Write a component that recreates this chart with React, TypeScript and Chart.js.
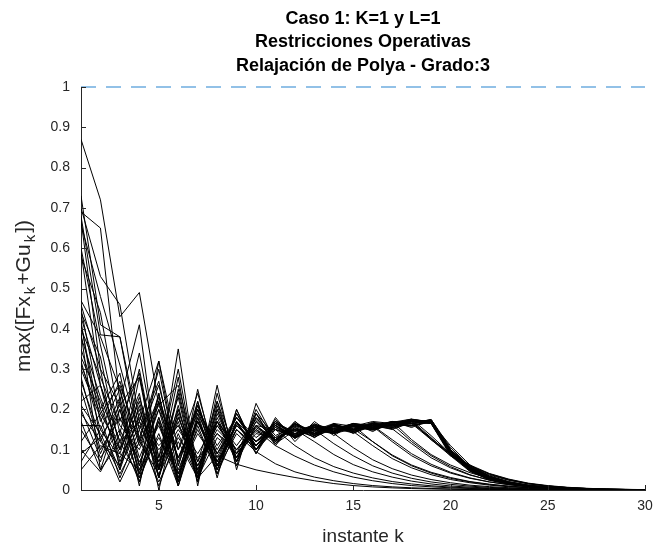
import React, { useEffect, useRef } from 'react';
import { Chart, registerables } from 'chart.js';

Chart.register(...registerables);

const FONT = '"Liberation Sans", Arial, Helvetica, sans-serif';

const kSteps = [1, 2, 3, 4, 5, 6, 7, 8, 9, 10, 11, 12, 13, 14, 15, 16, 17, 18, 19, 20, 21, 22, 23, 24, 25, 26, 27, 28, 29, 30];
const xTicks = [5, 10, 15, 20, 25, 30];
const yTicks = [0, 0.1, 0.2, 0.3, 0.4, 0.5, 0.6, 0.7, 0.8, 0.9, 1];
const titleLines = ['Caso 1: K=1 y L=1', 'Restricciones Operativas', 'Relajación de Polya - Grado:3'];
const xLabel = 'instante k';
const yLabelParts = [
  { t: 'max([Fx', sub: false },
  { t: 'k', sub: true },
  { t: '+Gu', sub: false },
  { t: 'k', sub: true },
  { t: '])', sub: false },
];
const limitX = [1, 30];
const limitY = [1, 1];

const traj01 = [0.87, 0.72, 0.43, 0.49, 0.21, 0.26, 0.07, 0.22, 0.09, 0.19, 0.135, 0.16, 0.148, 0.165, 0.158, 0.17, 0.165, 0.176, 0.168, 0.092, 0.05, 0.029, 0.017, 0.01, 0.006, 0.0035, 0.002, 0.0012, 0.0007, 0.0004];
const traj02 = [0.73, 0.41, 0.38, 0.12, 0.30, 0.06, 0.21, 0.09, 0.18, 0.11, 0.165, 0.14, 0.16, 0.148, 0.165, 0.155, 0.17, 0.165, 0.172, 0.095, 0.052, 0.03, 0.018, 0.011, 0.0065, 0.004, 0.0024, 0.0014, 0.0008, 0.0005];
const traj03 = [0.70, 0.53, 0.46, 0.17, 0.32, 0.10, 0.24, 0.07, 0.19, 0.11, 0.17, 0.135, 0.16, 0.145, 0.162, 0.155, 0.168, 0.172, 0.13, 0.085, 0.053, 0.032, 0.019, 0.011, 0.0065, 0.0038, 0.0022, 0.0013, 0.0008, 0.0005];
const traj04 = [0.69, 0.65, 0.22, 0.41, 0.05, 0.35, 0.03, 0.26, 0.05, 0.215, 0.12, 0.17, 0.135, 0.165, 0.145, 0.165, 0.155, 0.17, 0.165, 0.1, 0.058, 0.034, 0.02, 0.012, 0.007, 0.004, 0.0024, 0.0014, 0.0008, 0.0005];
const traj05 = [0.68, 0.385, 0.38, 0.15, 0.27, 0.04, 0.2, 0.06, 0.17, 0.1, 0.16, 0.13, 0.155, 0.142, 0.158, 0.15, 0.163, 0.12, 0.085, 0.058, 0.038, 0.024, 0.015, 0.009, 0.0055, 0.0033, 0.002, 0.0012, 0.0007, 0.0004];
const traj06 = [0.67, 0.30, 0.21, 0.28, 0.08, 0.23, 0.02, 0.19, 0.08, 0.17, 0.125, 0.158, 0.14, 0.16, 0.15, 0.165, 0.16, 0.174, 0.17, 0.1, 0.055, 0.03, 0.017, 0.009, 0.005, 0.0028, 0.0015, 0.0008, 0.0004, 0.0002];
const traj07 = [0.59, 0.26, 0.12, 0.24, 0.0, 0.2, 0.05, 0.16, 0.09, 0.155, 0.125, 0.15, 0.135, 0.152, 0.145, 0.11, 0.078, 0.055, 0.038, 0.026, 0.018, 0.012, 0.008, 0.0055, 0.0037, 0.0025, 0.0016, 0.001, 0.0007, 0.0004];
const traj08 = [0.46, 0.30, 0.05, 0.28, 0.03, 0.25, 0.04, 0.20, 0.08, 0.18, 0.13, 0.165, 0.145, 0.163, 0.152, 0.168, 0.162, 0.175, 0.17, 0.09, 0.05, 0.028, 0.016, 0.009, 0.005, 0.003, 0.0017, 0.001, 0.0006, 0.0003];
const traj09 = [0.45, 0.20, 0.29, 0.06, 0.24, 0.02, 0.25, 0.05, 0.2, 0.1, 0.175, 0.13, 0.165, 0.14, 0.16, 0.152, 0.168, 0.163, 0.174, 0.1, 0.055, 0.031, 0.018, 0.01, 0.006, 0.0035, 0.002, 0.0012, 0.0007, 0.0004];
const traj10 = [0.44, 0.33, 0.10, 0.30, 0.05, 0.28, 0.01, 0.24, 0.07, 0.2, 0.12, 0.165, 0.135, 0.16, 0.145, 0.158, 0.152, 0.115, 0.08, 0.055, 0.037, 0.025, 0.016, 0.01, 0.0065, 0.004, 0.0025, 0.0015, 0.0009, 0.0005];
const traj11 = [0.42, 0.12, 0.23, 0.04, 0.32, 0.06, 0.22, 0.06, 0.19, 0.1, 0.17, 0.13, 0.16, 0.145, 0.158, 0.152, 0.163, 0.16, 0.172, 0.098, 0.054, 0.03, 0.017, 0.01, 0.0055, 0.0032, 0.0018, 0.001, 0.0006, 0.0003];
const traj12 = [0.40, 0.28, 0.16, 0.10, 0.22, 0.08, 0.19, 0.09, 0.17, 0.12, 0.155, 0.135, 0.15, 0.115, 0.085, 0.06, 0.042, 0.029, 0.02, 0.014, 0.0095, 0.0065, 0.0045, 0.003, 0.002, 0.0013, 0.0009, 0.0006, 0.0004, 0.0002];
const traj13 = [0.39, 0.05, 0.20, 0.02, 0.18, 0.05, 0.17, 0.07, 0.16, 0.11, 0.16, 0.132, 0.158, 0.145, 0.162, 0.153, 0.168, 0.165, 0.175, 0.105, 0.058, 0.032, 0.018, 0.01, 0.0055, 0.003, 0.0017, 0.001, 0.0006, 0.0003];
const traj14 = [0.33, 0.22, 0.06, 0.21, 0.03, 0.18, 0.06, 0.17, 0.1, 0.16, 0.125, 0.155, 0.138, 0.155, 0.148, 0.16, 0.125, 0.09, 0.064, 0.044, 0.03, 0.02, 0.013, 0.0085, 0.0055, 0.0035, 0.0022, 0.0014, 0.0009, 0.0005];
const traj15 = [0.32, 0.15, 0.25, 0.03, 0.22, 0.01, 0.19, 0.04, 0.17, 0.09, 0.165, 0.128, 0.158, 0.14, 0.16, 0.15, 0.165, 0.158, 0.17, 0.088, 0.048, 0.026, 0.015, 0.0085, 0.0048, 0.0027, 0.0015, 0.0009, 0.0005, 0.0003];
const traj16 = [0.30, 0.18, 0.03, 0.15, 0.01, 0.14, 0.03, 0.13, 0.09, 0.14, 0.13, 0.15, 0.142, 0.158, 0.15, 0.163, 0.158, 0.17, 0.165, 0.085, 0.046, 0.026, 0.015, 0.0085, 0.005, 0.0028, 0.0016, 0.0009, 0.0005, 0.0003];
const traj17 = [0.28, 0.10, 0.18, 0.07, 0.16, 0.04, 0.15, 0.05, 0.14, 0.095, 0.065, 0.045, 0.032, 0.023, 0.016, 0.011, 0.0078, 0.0055, 0.0038, 0.0027, 0.0019, 0.0013, 0.0009, 0.0006, 0.0004, 0.0003, 0.0002, 0.0001, 0.0001, 0];
const traj18 = [0.21, 0.14, 0.04, 0.13, 0.02, 0.12, 0.03, 0.085, 0.064, 0.05, 0.04, 0.031, 0.023, 0.016, 0.011, 0.0077, 0.0053, 0.0036, 0.0025, 0.0017, 0.0012, 0.0008, 0.0005, 0.0003, 0.0002, 0.0001, 0.0001, 0, 0, 0];
const traj19 = [0.20, 0.08, 0.15, 0.04, 0.18, 0.02, 0.17, 0.06, 0.165, 0.11, 0.16, 0.13, 0.155, 0.142, 0.16, 0.152, 0.168, 0.17, 0.125, 0.085, 0.057, 0.037, 0.024, 0.015, 0.0095, 0.006, 0.0037, 0.0023, 0.0014, 0.0008];
const traj20 = [0.19, 0.12, 0.06, 0.16, 0.07, 0.15, 0.08, 0.14, 0.1, 0.15, 0.125, 0.152, 0.138, 0.158, 0.145, 0.16, 0.155, 0.165, 0.125, 0.088, 0.06, 0.04, 0.026, 0.016, 0.01, 0.006, 0.0036, 0.0021, 0.0012, 0.0007];
const traj21 = [0.17, 0.05, 0.12, 0.03, 0.14, 0.01, 0.16, 0.04, 0.15, 0.1, 0.15, 0.133, 0.148, 0.14, 0.105, 0.075, 0.053, 0.037, 0.026, 0.018, 0.012, 0.0083, 0.0057, 0.0039, 0.0026, 0.0017, 0.0011, 0.0007, 0.0005, 0.0003];
const traj22 = [0.16, 0.16, 0.05, 0.19, 0.03, 0.21, 0.02, 0.2, 0.07, 0.18, 0.12, 0.163, 0.14, 0.162, 0.148, 0.165, 0.155, 0.172, 0.166, 0.088, 0.047, 0.025, 0.014, 0.0078, 0.0043, 0.0024, 0.0013, 0.0007, 0.0004, 0.0002];
const traj23 = [0.10, 0.045, 0.14, 0.02, 0.17, 0.01, 0.18, 0.05, 0.17, 0.1, 0.16, 0.128, 0.155, 0.14, 0.158, 0.148, 0.163, 0.16, 0.168, 0.11, 0.062, 0.034, 0.019, 0.0105, 0.0058, 0.0032, 0.0018, 0.001, 0.0006, 0.0003];
const traj24 = [0.09, 0.13, 0.02, 0.12, 0.04, 0.13, 0.06, 0.15, 0.1, 0.145, 0.125, 0.15, 0.12, 0.088, 0.063, 0.045, 0.032, 0.022, 0.015, 0.01, 0.007, 0.0047, 0.0032, 0.0021, 0.0014, 0.0009, 0.0006, 0.0004, 0.0002, 0.0001];
const traj25 = [0.07, 0.15, 0.08, 0.17, 0.05, 0.17, 0.03, 0.18, 0.08, 0.17, 0.125, 0.16, 0.145, 0.163, 0.15, 0.166, 0.16, 0.174, 0.17, 0.095, 0.052, 0.029, 0.016, 0.0092, 0.0052, 0.003, 0.0017, 0.001, 0.0006, 0.0003];
const traj26 = [0.05, 0.11, 0.09, 0.05, 0.13, 0.04, 0.14, 0.07, 0.15, 0.1, 0.15, 0.13, 0.152, 0.142, 0.158, 0.15, 0.163, 0.168, 0.128, 0.09, 0.062, 0.041, 0.027, 0.017, 0.011, 0.0068, 0.0042, 0.0026, 0.0016, 0.001];
const traj27 = [0.25, 0.09, 0.20, 0.05, 0.17, 0.03, 0.18, 0.06, 0.16, 0.12, 0.16, 0.135, 0.155, 0.145, 0.155, 0.15, 0.162, 0.16, 0.17, 0.092, 0.05, 0.028, 0.016, 0.009, 0.005, 0.0028, 0.0016, 0.0009, 0.0005, 0.0003];
const traj28 = [0.35, 0.20, 0.09, 0.23, 0.07, 0.2, 0.05, 0.17, 0.08, 0.16, 0.115, 0.148, 0.132, 0.152, 0.142, 0.158, 0.12, 0.085, 0.06, 0.042, 0.029, 0.02, 0.0135, 0.009, 0.006, 0.004, 0.0026, 0.0017, 0.0011, 0.0007];
const traj29 = [0.43, 0.26, 0.12, 0.17, 0.1, 0.16, 0.06, 0.14, 0.09, 0.15, 0.11, 0.084, 0.062, 0.045, 0.032, 0.023, 0.016, 0.011, 0.0078, 0.0055, 0.0038, 0.0026, 0.0018, 0.0012, 0.0008, 0.0005, 0.0003, 0.0002, 0.0001, 0.0001];
const traj30 = [0.60, 0.36, 0.14, 0.34, 0.08, 0.3, 0.04, 0.22, 0.06, 0.19, 0.11, 0.17, 0.13, 0.165, 0.14, 0.163, 0.152, 0.17, 0.168, 0.098, 0.053, 0.029, 0.016, 0.0088, 0.0048, 0.0026, 0.0014, 0.0008, 0.0004, 0.0002];
const traj31 = [0.31, 0.19, 0.26, 0.12, 0.21, 0.1, 0.2, 0.11, 0.18, 0.13, 0.165, 0.145, 0.162, 0.152, 0.165, 0.16, 0.17, 0.125, 0.088, 0.062, 0.043, 0.029, 0.019, 0.012, 0.0078, 0.005, 0.0032, 0.002, 0.0013, 0.0008];
const traj32 = [0.15, 0.07, 0.22, 0.01, 0.24, 0.02, 0.22, 0.03, 0.2, 0.09, 0.18, 0.12, 0.17, 0.135, 0.165, 0.145, 0.17, 0.155, 0.175, 0.1, 0.055, 0.03, 0.017, 0.0095, 0.0052, 0.0029, 0.0016, 0.0009, 0.0005, 0.0003];
const traj33 = [0.38, 0.23, 0.1, 0.2, 0.06, 0.18, 0.07, 0.16, 0.1, 0.16, 0.15, 0.11, 0.08, 0.058, 0.042, 0.03, 0.021, 0.015, 0.0105, 0.0073, 0.005, 0.0035, 0.0024, 0.0016, 0.0011, 0.0007, 0.0005, 0.0003, 0.0002, 0.0001];
const traj34 = [0.27, 0.13, 0.21, 0.06, 0.2, 0.08, 0.17, 0.09, 0.16, 0.12, 0.15, 0.138, 0.155, 0.145, 0.16, 0.12, 0.085, 0.06, 0.042, 0.029, 0.02, 0.0135, 0.009, 0.006, 0.004, 0.0026, 0.0017, 0.0011, 0.0007, 0.0004];
const traj35 = [0.66, 0.48, 0.31, 0.13, 0.26, 0.07, 0.21, 0.08, 0.18, 0.12, 0.165, 0.138, 0.16, 0.147, 0.163, 0.155, 0.168, 0.176, 0.135, 0.09, 0.057, 0.035, 0.021, 0.012, 0.007, 0.004, 0.0024, 0.0014, 0.0008, 0.0005];
const traj36 = [0.58, 0.44, 0.17, 0.29, 0.03, 0.24, 0.03, 0.21, 0.07, 0.19, 0.115, 0.165, 0.135, 0.16, 0.148, 0.166, 0.158, 0.174, 0.17, 0.096, 0.053, 0.03, 0.017, 0.0098, 0.0055, 0.0031, 0.0018, 0.001, 0.0006, 0.0003];
const traj37 = [0.47, 0.38, 0.25, 0.08, 0.2, 0.03, 0.17, 0.06, 0.15, 0.11, 0.155, 0.13, 0.15, 0.14, 0.152, 0.12, 0.087, 0.062, 0.044, 0.031, 0.021, 0.0145, 0.0098, 0.0065, 0.0043, 0.0028, 0.0018, 0.0012, 0.0008, 0.0005];
const traj38 = [0.41, 0.17, 0.27, 0.11, 0.23, 0.08, 0.2, 0.1, 0.18, 0.12, 0.17, 0.14, 0.163, 0.15, 0.165, 0.158, 0.17, 0.165, 0.175, 0.1, 0.056, 0.032, 0.018, 0.0102, 0.0057, 0.0032, 0.0018, 0.001, 0.0006, 0.0003];
const traj39 = [0.12, 0.19, 0.1, 0.22, 0.05, 0.19, 0.02, 0.17, 0.07, 0.16, 0.12, 0.155, 0.13, 0.158, 0.142, 0.162, 0.15, 0.168, 0.128, 0.09, 0.06, 0.039, 0.025, 0.016, 0.01, 0.0062, 0.0038, 0.0023, 0.0014, 0.0009];
const traj40 = [0.22, 0.26, 0.07, 0.18, 0.11, 0.16, 0.09, 0.17, 0.11, 0.175, 0.125, 0.165, 0.14, 0.16, 0.15, 0.165, 0.158, 0.172, 0.165, 0.09, 0.05, 0.028, 0.016, 0.009, 0.005, 0.0028, 0.0016, 0.0009, 0.0005, 0.0003];

const trajectories = [
  traj01, traj02, traj03, traj04, traj05, traj06, traj07, traj08, traj09, traj10,
  traj11, traj12, traj13, traj14, traj15, traj16, traj17, traj18, traj19, traj20,
  traj21, traj22, traj23, traj24, traj25, traj26, traj27, traj28, traj29, traj30,
  traj31, traj32, traj33, traj34, traj35, traj36, traj37, traj38, traj39, traj40,
];

const decorPlugin = {
  id: 'decor',
  afterDraw(chart: any) {
    const { ctx, chartArea, scales } = chart;
    ctx.save();
    ctx.strokeStyle = '#262626';
    ctx.lineWidth = 1;
    ctx.beginPath();
    for (const v of yTicks) {
      const y = Math.round(scales.y.getPixelForValue(v)) + 0.5;
      ctx.moveTo(chartArea.left, y);
      ctx.lineTo(chartArea.left + 5, y);
    }
    for (const v of xTicks) {
      const x = Math.round(scales.x.getPixelForValue(v)) + 0.5;
      ctx.moveTo(x, chartArea.bottom);
      ctx.lineTo(x, chartArea.bottom - 5);
    }
    ctx.stroke();

    ctx.fillStyle = '#000';
    ctx.font = `bold 18px ${FONT}`;
    ctx.textAlign = 'center';
    ctx.textBaseline = 'middle';
    const cx = (chartArea.left + chartArea.right) / 2;
    titleLines.forEach((t, i) => ctx.fillText(t, cx, 19 + i * 23.5));

    const mainFont = `21px ${FONT}`;
    const subFont = `15px ${FONT}`;
    const gap = 2;
    let total = 0;
    for (const p of yLabelParts) {
      ctx.font = p.sub ? subFont : mainFont;
      total += ctx.measureText(p.t).width + (p.sub ? 2 * gap : 0);
    }
    ctx.translate(24, 296);
    ctx.rotate(-Math.PI / 2);
    ctx.fillStyle = '#262626';
    ctx.textAlign = 'left';
    ctx.textBaseline = 'middle';
    let x = -total / 2;
    for (const p of yLabelParts) {
      ctx.font = p.sub ? subFont : mainFont;
      if (p.sub) x += gap;
      ctx.fillText(p.t, x, p.sub ? 7 : 0);
      x += ctx.measureText(p.t).width + (p.sub ? gap : 0);
    }
    ctx.restore();
  },
};

export default function App() {
  const canvasRef = useRef<HTMLCanvasElement>(null);

  useEffect(() => {
    const canvas = canvasRef.current;
    if (!canvas) return;

    const lineSets = trajectories.map((vals) => ({
      data: kSteps.map((k, i) => ({ x: k, y: vals[i] })),
      borderColor: '#000000',
      borderWidth: 1,
      pointRadius: 0,
      tension: 0,
      fill: false,
    }));

    const limitSet = {
      data: limitX.map((x, i) => ({ x, y: limitY[i] })),
      borderColor: '#6fade0',
      borderWidth: 1.5,
      borderDash: [15, 10],
      pointRadius: 0,
      tension: 0,
      fill: false,
      clip: 6,
    };

    const chart = new Chart(canvas, {
      type: 'line',
      data: { datasets: [limitSet, ...lineSets] as any },
      options: {
        animation: false,
        responsive: true,
        maintainAspectRatio: false,
        layout: { padding: { top: 87, right: 27, bottom: 0, left: 0 } },
        plugins: {
          legend: { display: false },
          tooltip: { enabled: false },
          title: { display: false },
        },
        scales: {
          x: {
            type: 'linear',
            min: 1,
            max: 30,
            afterBuildTicks: (s: any) => {
              s.ticks = xTicks.map((v) => ({ value: v }));
            },
            afterFit: (s: any) => {
              s.height = 58;
            },
            grid: { display: false, drawTicks: false },
            border: { display: true, color: '#262626', width: 1 },
            ticks: {
              color: '#262626',
              font: { size: 14, family: FONT },
              padding: 8,
              maxRotation: 0,
              autoSkip: false,
            },
            title: {
              display: true,
              text: xLabel,
              color: '#262626',
              font: { size: 19, family: FONT },
              padding: { top: 0, bottom: 0 },
            },
          },
          y: {
            type: 'linear',
            min: 0,
            max: 1,
            afterBuildTicks: (s: any) => {
              s.ticks = yTicks.map((v) => ({ value: v }));
            },
            afterFit: (s: any) => {
              s.width = 81;
            },
            grid: { display: false, drawTicks: false },
            border: { display: true, color: '#262626', width: 1 },
            ticks: {
              color: '#262626',
              font: { size: 14, family: FONT },
              padding: 11,
              callback: (v: any) => String(Math.round(Number(v) * 10) / 10),
            },
          },
        },
      },
      plugins: [decorPlugin],
    });

    return () => chart.destroy();
  }, []);

  return (
    <div style={{ position: 'absolute', left: 0, top: 0, width: 672, height: 548, background: '#fff' }}>
      <canvas ref={canvasRef} />
    </div>
  );
}
